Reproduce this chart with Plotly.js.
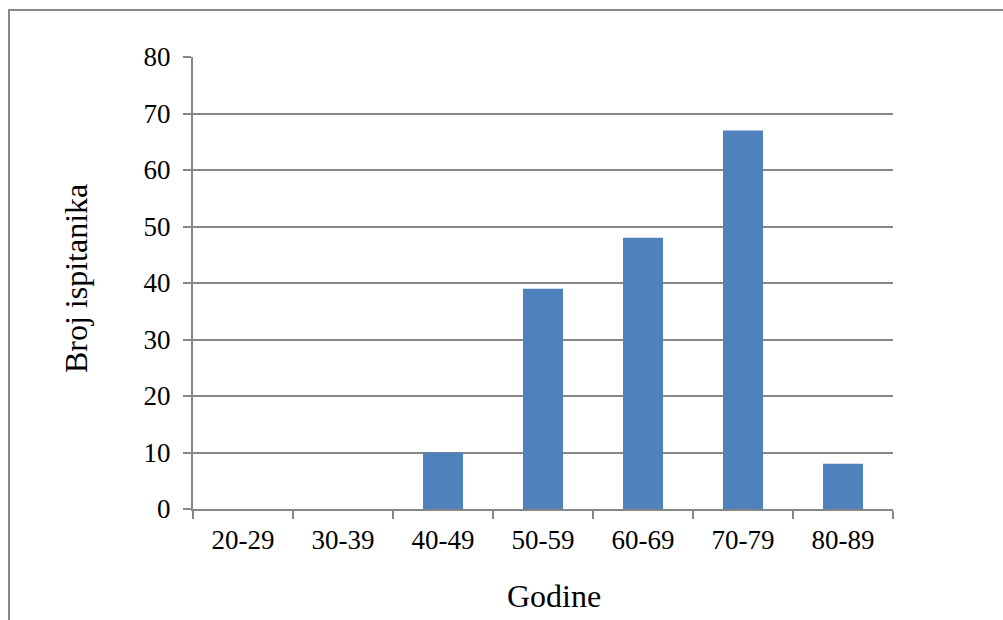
<!DOCTYPE html>
<html>
<head>
<meta charset="utf-8">
<script src="https://cdn.plot.ly/plotly-3.0.1.min.js"></script>
<style>
html,body{margin:0;padding:0;background:#fff;overflow:hidden;}
#frame{position:absolute;left:8px;top:9px;width:1100px;height:700px;border:2px solid #878787;box-sizing:border-box;}
#chart{position:absolute;left:0;top:0;width:1003px;height:620px;}
</style>
</head>
<body>
<div id="frame"></div>
<div id="chart"></div>
<script>
const categories = ["20-29","30-39","40-49","50-59","60-69","70-79","80-89"];
const counts = [0, 0, 10, 39, 48, 67, 8];
const yTicks = [0,10,20,30,40,50,60,70,80];
const xTitle = "Godine";
const yTitle = "Broj ispitanika";

const font = {family: "Liberation Serif, Times New Roman, serif", color: "#000"};

Plotly.newPlot("chart", [{
  type: "bar",
  x: categories,
  y: counts,
  marker: {color: "#4F81BD"},
  hoverinfo: "skip"
}], {
  width: 1003, height: 620,
  paper_bgcolor: "rgba(0,0,0,0)",
  plot_bgcolor: "rgba(0,0,0,0)",
  margin: {l: 193, r: 110, t: 57, b: 111},
  bargap: 0.6,
  showlegend: false,
  font: Object.assign({size: 27}, font),
  xaxis: {
    type: "category",
    tickson: "boundaries",
    ticks: "outside", ticklen: 8, tickwidth: 2, tickcolor: "#878787",
    showline: true, linecolor: "#878787", linewidth: 2,
    showgrid: false, zeroline: false,
    tickfont: Object.assign({size: 27}, font),
    ticklabelstandoff: 6
  },
  yaxis: {
    range: [0, 80],
    tickvals: yTicks,
    ticks: "outside", ticklen: 8, tickwidth: 2, tickcolor: "#878787",
    showline: true, linecolor: "#878787", linewidth: 2,
    showgrid: true, gridcolor: "#878787", gridwidth: 2,
    zeroline: false,
    tickfont: Object.assign({size: 27}, font),
    ticklabelstandoff: 7
  },
  annotations: [
    {text: xTitle, xref: "paper", yref: "paper", x: 0.5157, y: -0.1925,
     xanchor: "center", yanchor: "middle", showarrow: false,
     font: Object.assign({size: 32}, font)},
    {text: yTitle, xref: "paper", yref: "paper", x: -0.167, y: 0.509,
     xanchor: "center", yanchor: "middle", textangle: -90, showarrow: false,
     font: Object.assign({size: 32}, font)}
  ]
}, {staticPlot: true, displayModeBar: false});
</script>
</body>
</html>
